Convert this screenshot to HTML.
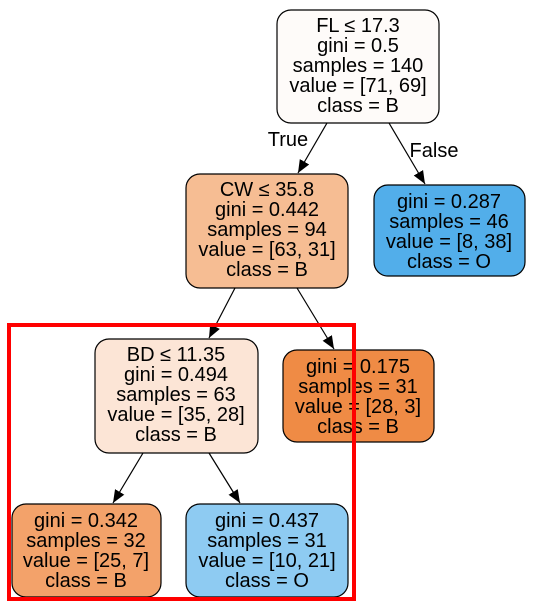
<!DOCTYPE html>
<html><head><meta charset="utf-8"><style>
html,body{margin:0;padding:0;background:#fff;}
svg{display:block;}
text{font-family:"Liberation Sans",sans-serif;font-size:20px;fill:#000;text-anchor:middle;}
</style></head><body>
<svg width="534" height="603" viewBox="0 0 534 603" xmlns="http://www.w3.org/2000/svg">
<defs>
<marker id="b" viewBox="0 0 12 10" markerWidth="13" markerHeight="11" refX="12" refY="5" orient="auto" markerUnits="userSpaceOnUse"><path d="M0,0 L12,5 L0,10 z" fill="#000"/></marker></defs>
<g stroke="#000" stroke-width="1.2">
<line x1="327" y1="123" x2="298" y2="173" marker-end="url(#b)"/>
<line x1="389" y1="123" x2="425" y2="184" marker-end="url(#b)"/>
<line x1="235" y1="288" x2="209" y2="338" marker-end="url(#b)"/>
<line x1="297" y1="288" x2="334" y2="349" marker-end="url(#b)"/>
<line x1="143" y1="453" x2="113" y2="503" marker-end="url(#b)"/>
<line x1="209" y1="453" x2="240" y2="503" marker-end="url(#b)"/>
</g>
<g stroke="#000" stroke-width="1.2">
<rect x="277" y="10" width="162" height="113" rx="14" fill="#fefbf9"/>
<rect x="186" y="174" width="162" height="114" rx="14" fill="#f6bd93"/>
<rect x="374" y="185" width="151" height="91" rx="14" fill="#52aeea"/>
<rect x="95" y="339" width="163" height="114" rx="14" fill="#fce5d6"/>
<rect x="283" y="350" width="151" height="92" rx="14" fill="#ef8b45"/>
<rect x="12" y="504" width="149" height="93" rx="14" fill="#f3a26a"/>
<rect x="186" y="504" width="162" height="93" rx="14" fill="#8ecbf2"/>
</g>
<text x="288" y="146">True</text>
<text x="434" y="157">False</text>
<g>
<text x="358" y="32">FL ≤ 17.3</text><text x="358" y="52">gini = 0.5</text><text x="358" y="72">samples = 140</text><text x="358" y="92">value = [71, 69]</text><text x="358" y="112">class = B</text>
<text x="267" y="196">CW ≤ 35.8</text><text x="267" y="216">gini = 0.442</text><text x="267" y="236">samples = 94</text><text x="267" y="256">value = [63, 31]</text><text x="267" y="276">class = B</text>
<text x="449" y="208">gini = 0.287</text><text x="449" y="228">samples = 46</text><text x="449" y="248">value = [8, 38]</text><text x="449" y="268">class = O</text>
<text x="176" y="361">BD ≤ 11.35</text><text x="176" y="381">gini = 0.494</text><text x="176" y="401">samples = 63</text><text x="176" y="421">value = [35, 28]</text><text x="176" y="441">class = B</text>
<text x="358" y="373">gini = 0.175</text><text x="358" y="393">samples = 31</text><text x="358" y="413">value = [28, 3]</text><text x="358" y="433">class = B</text>
<text x="86" y="527">gini = 0.342</text><text x="86" y="547">samples = 32</text><text x="86" y="567">value = [25, 7]</text><text x="86" y="587">class = B</text>
<text x="267" y="527">gini = 0.437</text><text x="267" y="547">samples = 31</text><text x="267" y="567">value = [10, 21]</text><text x="267" y="587">class = O</text>
</g>
<rect x="9" y="325" width="345" height="274" fill="none" stroke="#ff0000" stroke-width="4"/>
</svg>
</body></html>
